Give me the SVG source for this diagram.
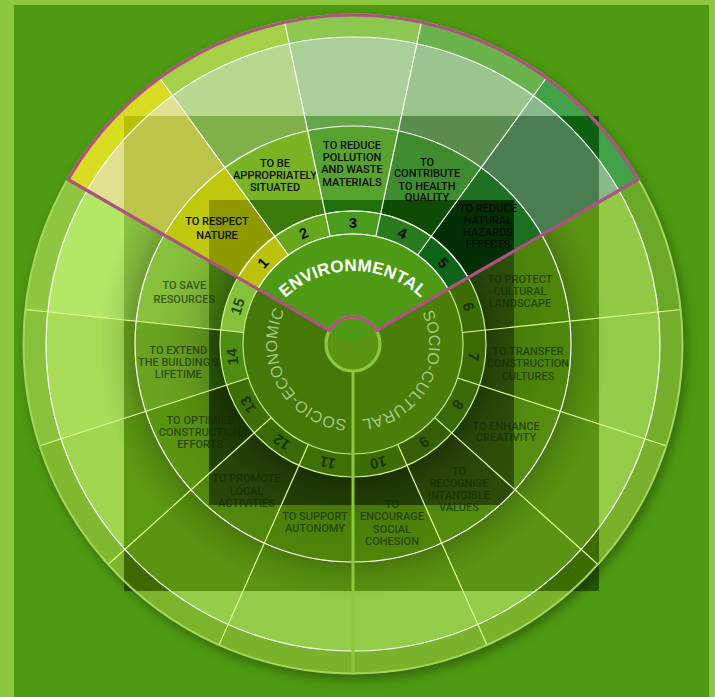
<svg xmlns="http://www.w3.org/2000/svg" xmlns:xlink="http://www.w3.org/1999/xlink" width="715" height="697" viewBox="0 0 715 697">
<style>
.lb{font-family:Roboto,"Liberation Sans",sans-serif;font-size:11px;font-weight:500;text-anchor:middle}
.env{fill:#0d0d0d}
.soc{fill:#142a00;fill-opacity:.72}
.num{font-family:"Liberation Sans",Roboto,sans-serif;font-size:15px;font-weight:bold;text-anchor:middle}
.nenv{fill:#0a0a0a}
.nsoc{fill:#0e2400;fill-opacity:.8}
.dv{stroke-width:1.2;fill:none}
</style>
<defs>
<clipPath id="cA"><rect x="124" y="116" width="475" height="475"/></clipPath>
<clipPath id="cB"><rect x="209" y="200" width="305" height="305"/></clipPath>
<circle id="rim" cx="353" cy="344" r="318.5" fill="none" stroke-width="23" pathLength="360" stroke-dasharray="24 336"/>
<circle id="ob" cx="353" cy="344" r="262.5" fill="none" stroke-width="89" pathLength="360" stroke-dasharray="24 336"/>
<circle id="lr" cx="353" cy="344" r="175.5" fill="none" stroke-width="85" pathLength="360" stroke-dasharray="24 336"/>
<circle id="nr" cx="353" cy="344" r="121.5" fill="none" stroke-width="23" pathLength="360" stroke-dasharray="24 336"/>
<radialGradient id="lsh" gradientUnits="userSpaceOnUse" cx="353" cy="344" r="218">
<stop offset="0.6" stop-color="#000" stop-opacity="0.32"/>
<stop offset="0.68" stop-color="#000" stop-opacity="0.16"/>
<stop offset="0.78" stop-color="#000" stop-opacity="0.06"/>
<stop offset="0.9" stop-color="#000" stop-opacity="0.01"/>
<stop offset="1" stop-color="#000" stop-opacity="0"/>
</radialGradient>
<radialGradient id="osh" gradientUnits="userSpaceOnUse" cx="353" cy="344" r="307">
<stop offset="0.7" stop-color="#000" stop-opacity="0.22"/>
<stop offset="0.76" stop-color="#000" stop-opacity="0.08"/>
<stop offset="0.83" stop-color="#000" stop-opacity="0"/>
</radialGradient>
<filter id="sh" x="-10%" y="-10%" width="120%" height="120%"><feGaussianBlur stdDeviation="6"/></filter>
<path id="pEnv" d="M267.26,320.5 A99,99 0 0 1 438.74,320.5"/>
<path id="pSE" d="M365.87,418.9 A76,76 0 0 1 295,294.9"/>
<path id="pSC" d="M410.79,294.65 A76,76 0 0 1 340.46,418.96"/>
</defs>

<rect width="715" height="697" fill="#8dc63f"/>
<rect x="14" y="5" width="695" height="692" fill="#4e9a12"/>
<rect x="124" y="116" width="475" height="475" fill="#245a06"/>
<circle cx="356" cy="349" r="330" fill="#000" opacity="0.35" filter="url(#sh)"/>

<g id="sector-1">
<use href="#rim" stroke="#d8dc22" transform="rotate(-150 353 344)"/>
<use href="#ob" stroke="#dfe190" transform="rotate(-150 353 344)"/>
<g clip-path="url(#cA)"><use href="#rim" stroke="#b8c000" transform="rotate(-150 353 344)"/><use href="#ob" stroke="#bcc44a" transform="rotate(-150 353 344)"/></g>
<use href="#lr" stroke="#c0c80e" transform="rotate(-150 353 344)"/>
<g clip-path="url(#cB)"><use href="#lr" stroke="#8e9a00" transform="rotate(-150 353 344)"/></g>
<use href="#nr" stroke="#bcc20c" transform="rotate(-150 353 344)"/>
<text class="lb env" x="217"><tspan x="217" y="224.6">TO RESPECT</tspan><tspan x="217" y="238.9">NATURE</tspan></text>
<text class="num nenv" transform="translate(262.71 262.7) rotate(-48)" dy="0.36em">1</text>
</g>

<g id="sector-2">
<use href="#rim" stroke="#a5d048" transform="rotate(-126 353 344)"/>
<use href="#ob" stroke="#b8d890" transform="rotate(-126 353 344)"/>
<g clip-path="url(#cA)"><use href="#ob" stroke="#80b04a" transform="rotate(-126 353 344)"/></g>
<use href="#lr" stroke="#7ab424" transform="rotate(-126 353 344)"/>
<g clip-path="url(#cB)"><use href="#lr" stroke="#3a7a0a" transform="rotate(-126 353 344)"/></g>
<use href="#nr" stroke="#66a81c" transform="rotate(-126 353 344)"/>
<text class="lb env"><tspan x="275" y="167.2">TO BE</tspan><tspan x="275" y="178.9">APPROPRIATELY</tspan><tspan x="275" y="190.6">SITUATED</tspan></text>
<text class="num nenv" transform="translate(303.58 233) rotate(-24)" dy="0.36em">2</text>
</g>

<g id="sector-3">
<use href="#rim" stroke="#8cc850" transform="rotate(-102 353 344)"/>
<use href="#ob" stroke="#aacf98" transform="rotate(-102 353 344)"/>
<g clip-path="url(#cA)"><use href="#ob" stroke="#66a44a" transform="rotate(-102 353 344)"/></g>
<use href="#lr" stroke="#58a230" transform="rotate(-102 353 344)"/>
<g clip-path="url(#cB)"><use href="#lr" stroke="#1e6e0a" transform="rotate(-102 353 344)"/></g>
<use href="#nr" stroke="#4a9c1e" transform="rotate(-102 353 344)"/>
<text class="lb env"><tspan x="352" y="148.9">TO REDUCE</tspan><tspan x="352" y="161.2">POLLUTION</tspan><tspan x="352" y="173.2">AND WASTE</tspan><tspan x="352" y="185.6">MATERIALS</tspan></text>
<text class="num nenv" transform="translate(353 222.5)" dy="0.36em">3</text>
</g>

<g id="sector-4">
<use href="#rim" stroke="#6ab24c" transform="rotate(-78 353 344)"/>
<use href="#ob" stroke="#9cc48e" transform="rotate(-78 353 344)"/>
<g clip-path="url(#cA)"><use href="#ob" stroke="#5a8c50" transform="rotate(-78 353 344)"/></g>
<use href="#lr" stroke="#3e8c2e" transform="rotate(-78 353 344)"/>
<g clip-path="url(#cB)"><use href="#lr" stroke="#0e4c06" transform="rotate(-78 353 344)"/></g>
<use href="#nr" stroke="#2a7a1e" transform="rotate(-78 353 344)"/>
<text class="lb env"><tspan x="427" y="165.6">TO</tspan><tspan x="427" y="177.2">CONTRIBUTE</tspan><tspan x="427" y="189.6">TO HEALTH</tspan><tspan x="427" y="201.2">QUALITY</tspan></text>
<text class="num nenv" transform="translate(402.42 233) rotate(24)" dy="0.36em">4</text>
</g>

<g id="sector-5">
<use href="#rim" stroke="#42a24a" transform="rotate(-54 353 344)"/>
<use href="#ob" stroke="#8ab88a" transform="rotate(-54 353 344)"/>
<g clip-path="url(#cA)"><use href="#rim" stroke="#0e6010" transform="rotate(-54 353 344)"/><use href="#ob" stroke="#4a7e50" transform="rotate(-54 353 344)"/></g>
<use href="#lr" stroke="#1e7022" transform="rotate(-54 353 344)"/>
<g clip-path="url(#cB)"><use href="#lr" stroke="#042e04" transform="rotate(-54 353 344)"/></g>
<use href="#nr" stroke="#0c6418" transform="rotate(-54 353 344)"/>
<text class="lb env"><tspan x="488" y="211.9">TO REDUCE</tspan><tspan x="488" y="223.9">NATURAL</tspan><tspan x="488" y="236.2">HAZARDS</tspan><tspan x="488" y="248.2">EFFECTS</tspan></text>
<text class="num nenv" transform="translate(443.29 262.7) rotate(48)" dy="0.36em">5</text>
</g>

<g id="sector-6">
<use href="#rim" stroke="#6ca828" transform="rotate(-30 353 344)"/>
<use href="#ob" stroke="#92ca46" transform="rotate(-30 353 344)"/>
<g clip-path="url(#cA)"><use href="#ob" stroke="#5a9612" transform="rotate(-30 353 344)"/></g>
<use href="#ob" stroke="url(#osh)" transform="rotate(-30 353 344)"/>
<use href="#lr" stroke="#4e860a" transform="rotate(-30 353 344)"/>
<g clip-path="url(#cB)"><use href="#lr" stroke="#30540a" transform="rotate(-30 353 344)"/></g>
<use href="#lr" stroke="url(#lsh)" transform="rotate(-30 353 344)"/>
<use href="#nr" stroke="#3c6c06" transform="rotate(-30 353 344)"/>
<text class="lb soc"><tspan x="520" y="282.9">TO PROTECT</tspan><tspan x="520" y="295.2">CULTURAL</tspan><tspan x="520" y="307.2">LANDSCAPE</tspan></text>
<text class="num nsoc" transform="translate(468.56 306.45) rotate(72)" dy="0.36em">6</text>
</g>

<g id="sector-7">
<use href="#rim" stroke="#74ae2a" transform="rotate(-6 353 344)"/>
<use href="#ob" stroke="#92cc48" transform="rotate(-6 353 344)"/>
<g clip-path="url(#cA)"><use href="#ob" stroke="#5a9612" transform="rotate(-6 353 344)"/></g>
<use href="#ob" stroke="url(#osh)" transform="rotate(-6 353 344)"/>
<use href="#lr" stroke="#4e860a" transform="rotate(-6 353 344)"/>
<g clip-path="url(#cB)"><use href="#lr" stroke="#30540a" transform="rotate(-6 353 344)"/></g>
<use href="#lr" stroke="url(#lsh)" transform="rotate(-6 353 344)"/>
<use href="#nr" stroke="#3c6a06" transform="rotate(-6 353 344)"/>
<text class="lb soc"><tspan x="528" y="354.6">TO TRANSFER</tspan><tspan x="528" y="367.2">CONSTRUCTION</tspan><tspan x="528" y="379.6">CULTURES</tspan></text>
<text class="num nsoc" transform="translate(473.83 356.7) rotate(96)" dy="0.36em">7</text>
</g>

<g id="sector-8">
<use href="#rim" stroke="#78b02c" transform="rotate(18 353 344)"/>
<use href="#ob" stroke="#94cc48" transform="rotate(18 353 344)"/>
<g clip-path="url(#cA)"><use href="#rim" stroke="#3c6c04" transform="rotate(18 353 344)"/><use href="#ob" stroke="#5a9412" transform="rotate(18 353 344)"/></g>
<use href="#ob" stroke="url(#osh)" transform="rotate(18 353 344)"/>
<use href="#lr" stroke="#568e10" transform="rotate(18 353 344)"/>
<g clip-path="url(#cB)"><use href="#lr" stroke="#2e5008" transform="rotate(18 353 344)"/></g>
<use href="#lr" stroke="url(#lsh)" transform="rotate(18 353 344)"/>
<use href="#nr" stroke="#3a6a08" transform="rotate(18 353 344)"/>
<text class="lb soc"><tspan x="506" y="429.6">TO ENHANCE</tspan><tspan x="506" y="441.2">CREATIVITY</tspan></text>
<text class="num nsoc" transform="translate(458.22 404.75) rotate(120)" dy="0.36em">8</text>
</g>

<g id="sector-9">
<use href="#rim" stroke="#7ab22c" transform="rotate(42 353 344)"/>
<use href="#ob" stroke="#92cc48" transform="rotate(42 353 344)"/>
<g clip-path="url(#cA)"><use href="#rim" stroke="#3c6c04" transform="rotate(42 353 344)"/><use href="#ob" stroke="#5a9412" transform="rotate(42 353 344)"/></g>
<use href="#ob" stroke="url(#osh)" transform="rotate(42 353 344)"/>
<use href="#lr" stroke="#548c0e" transform="rotate(42 353 344)"/>
<g clip-path="url(#cB)"><use href="#lr" stroke="#2e4a08" transform="rotate(42 353 344)"/></g>
<use href="#lr" stroke="url(#lsh)" transform="rotate(42 353 344)"/>
<use href="#nr" stroke="#365e06" transform="rotate(42 353 344)"/>
<text class="lb soc"><tspan x="459" y="474.9">TO</tspan><tspan x="459" y="486.6">RECOGNISE</tspan><tspan x="459" y="498.9">INTANGIBLE</tspan><tspan x="459" y="510.6">VALUES</tspan></text>
<text class="num nsoc" transform="translate(424.42 442.3) rotate(144)" dy="0.36em">9</text>
</g>

<g id="sector-10">
<use href="#rim" stroke="#7ab22c" transform="rotate(66 353 344)"/>
<use href="#ob" stroke="#92cc48" transform="rotate(66 353 344)"/>
<g clip-path="url(#cA)"><use href="#ob" stroke="#5a9410" transform="rotate(66 353 344)"/></g>
<use href="#ob" stroke="url(#osh)" transform="rotate(66 353 344)"/>
<use href="#lr" stroke="#4e840a" transform="rotate(66 353 344)"/>
<g clip-path="url(#cB)"><use href="#lr" stroke="#264206" transform="rotate(66 353 344)"/></g>
<use href="#lr" stroke="url(#lsh)" transform="rotate(66 353 344)"/>
<use href="#nr" stroke="#3c6c06" transform="rotate(66 353 344)"/>
<text class="lb soc"><tspan x="392" y="507.6">TO</tspan><tspan x="392" y="520.4">ENCOURAGE</tspan><tspan x="392" y="533.2">SOCIAL</tspan><tspan x="392" y="544.9">COHESION</tspan></text>
<text class="num nsoc" transform="translate(378.26 462.84) rotate(168)" dy="0.36em">10</text>
</g>

<g id="sector-11">
<use href="#rim" stroke="#7ab22c" transform="rotate(90 353 344)"/>
<use href="#ob" stroke="#92cc48" transform="rotate(90 353 344)"/>
<g clip-path="url(#cA)"><use href="#ob" stroke="#5a9410" transform="rotate(90 353 344)"/></g>
<use href="#ob" stroke="url(#osh)" transform="rotate(90 353 344)"/>
<use href="#lr" stroke="#4e840a" transform="rotate(90 353 344)"/>
<g clip-path="url(#cB)"><use href="#lr" stroke="#264206" transform="rotate(90 353 344)"/></g>
<use href="#lr" stroke="url(#lsh)" transform="rotate(90 353 344)"/>
<use href="#nr" stroke="#3e7006" transform="rotate(90 353 344)"/>
<text class="lb soc"><tspan x="315" y="519.9">TO SUPPORT</tspan><tspan x="315" y="531.9">AUTONOMY</tspan></text>
<text class="num nsoc" transform="translate(327.74 462.84) rotate(192)" dy="0.36em">11</text>
</g>

<g id="sector-12">
<use href="#rim" stroke="#7cb42c" transform="rotate(114 353 344)"/>
<use href="#ob" stroke="#94ce48" transform="rotate(114 353 344)"/>
<g clip-path="url(#cA)"><use href="#rim" stroke="#3e6a02" transform="rotate(114 353 344)"/><use href="#ob" stroke="#5a9410" transform="rotate(114 353 344)"/></g>
<use href="#ob" stroke="url(#osh)" transform="rotate(114 353 344)"/>
<use href="#lr" stroke="#52880c" transform="rotate(114 353 344)"/>
<g clip-path="url(#cB)"><use href="#lr" stroke="#2a4608" transform="rotate(114 353 344)"/></g>
<use href="#lr" stroke="url(#lsh)" transform="rotate(114 353 344)"/>
<use href="#nr" stroke="#3a6a06" transform="rotate(114 353 344)"/>
<text class="lb soc"><tspan x="246.5" y="481.6">TO PROMOTE</tspan><tspan x="246.5" y="494.6">LOCAL</tspan><tspan x="246.5" y="506.6">ACTIVITIES</tspan></text>
<text class="num nsoc" transform="translate(281.58 442.3) rotate(216)" dy="0.36em">12</text>
</g>

<g id="sector-13">
<use href="#rim" stroke="#80b830" transform="rotate(138 353 344)"/>
<use href="#ob" stroke="#a0d650" transform="rotate(138 353 344)"/>
<g clip-path="url(#cA)"><use href="#rim" stroke="#3e6a02" transform="rotate(138 353 344)"/><use href="#ob" stroke="#5c9a12" transform="rotate(138 353 344)"/></g>
<use href="#ob" stroke="url(#osh)" transform="rotate(138 353 344)"/>
<use href="#lr" stroke="#5a9410" transform="rotate(138 353 344)"/>
<g clip-path="url(#cB)"><use href="#lr" stroke="#224204" transform="rotate(138 353 344)"/></g>
<use href="#lr" stroke="url(#lsh)" transform="rotate(138 353 344)"/>
<use href="#nr" stroke="#3e6e08" transform="rotate(138 353 344)"/>
<text class="lb soc"><tspan x="200" y="423.9">TO OPTIMISE</tspan><tspan x="200" y="435.9">CONSTRUCTION</tspan><tspan x="200" y="447.6">EFFORTS</tspan></text>
<text class="num nsoc" transform="translate(247.78 404.75) rotate(240)" dy="0.36em">13</text>
</g>

<g id="sector-14">
<use href="#rim" stroke="#88c23a" transform="rotate(162 353 344)"/>
<use href="#ob" stroke="#a8dc58" transform="rotate(162 353 344)"/>
<g clip-path="url(#cA)"><use href="#ob" stroke="#6aa41e" transform="rotate(162 353 344)"/></g>
<use href="#ob" stroke="url(#osh)" transform="rotate(162 353 344)"/>
<use href="#lr" stroke="#6aa420" transform="rotate(162 353 344)"/>
<g clip-path="url(#cB)"><use href="#lr" stroke="#30600a" transform="rotate(162 353 344)"/></g>
<use href="#lr" stroke="url(#lsh)" transform="rotate(162 353 344)"/>
<use href="#nr" stroke="#4e8c12" transform="rotate(162 353 344)"/>
<text class="lb soc"><tspan x="178.3" y="353.9">TO EXTEND</tspan><tspan x="178.3" y="365.9">THE BUILDING'S</tspan><tspan x="178.3" y="377.9">LIFETIME</tspan></text>
<text class="num nsoc" transform="translate(232.17 356.7) rotate(264)" dy="0.36em">14</text>
</g>

<g id="sector-15">
<use href="#rim" stroke="#8ec640" transform="rotate(186 353 344)"/>
<use href="#ob" stroke="#b2e866" transform="rotate(186 353 344)"/>
<g clip-path="url(#cA)"><use href="#ob" stroke="#88c23e" transform="rotate(186 353 344)"/></g>
<use href="#ob" stroke="url(#osh)" transform="rotate(186 353 344)"/>
<use href="#lr" stroke="#88c23c" transform="rotate(186 353 344)"/>
<g clip-path="url(#cB)"><use href="#lr" stroke="#4c8a0e" transform="rotate(186 353 344)"/></g>
<use href="#lr" stroke="url(#lsh)" transform="rotate(186 353 344)"/>
<use href="#nr" stroke="#84c23a" transform="rotate(186 353 344)"/>
<text class="lb soc"><tspan x="184.3" y="288.9">TO SAVE</tspan><tspan x="184.3" y="303.2">RESOURCES</tspan></text>
<text class="num nsoc" transform="translate(237.44 306.45) rotate(288)" dy="0.36em">15</text>
</g>

<g id="core">
<path d="M353,344 L353,454 A110,110 0 0 1 257.74,289 Z" fill="#457807"/>
<path d="M353,344 L448.26,289 A110,110 0 0 1 353,454 Z" fill="#4a7e08"/>
<circle cx="353" cy="344" r="27" fill="#5a9410"/>
<path d="M353,344 L257.74,289 A110,110 0 0 1 448.26,289 Z" fill="#4e9a14"/>
<text font-family="'Liberation Sans',Roboto,sans-serif" font-size="17" font-weight="bold" letter-spacing="0.2" fill="#fff"><textPath href="#pEnv" startOffset="50%" text-anchor="middle">ENVIRONMENTAL</textPath></text>
<text font-family="'Liberation Sans',Roboto,sans-serif" font-size="16" letter-spacing="0.2" fill="#b8d8a0" fill-opacity="0.85"><textPath href="#pSE" startOffset="50%" text-anchor="middle">SOCIO-ECONOMIC</textPath></text>
<text font-family="'Liberation Sans',Roboto,sans-serif" font-size="16" letter-spacing="0.2" fill="#b8d8a0" fill-opacity="0.85"><textPath href="#pSC" startOffset="50%" text-anchor="middle">SOCIO-CULTURAL</textPath></text>
</g>

<g id="connectors">
<circle cx="353" cy="344" r="110" fill="none" stroke="#c0ec80" stroke-width="1.2"/>
<circle cx="353" cy="344" r="133" fill="none" stroke="#d0f490" stroke-width="1.2"/>
<path d="M257.74,289 A110,110 0 0 1 448.26,289 M237.82,277.5 A133,133 0 0 1 468.18,277.5" fill="none" stroke="#fff" stroke-width="1.2"/>
<circle cx="353" cy="344" r="218" fill="none" stroke="#fff" stroke-width="1.2"/>
<circle cx="353" cy="344" r="307" fill="none" stroke="#fff" stroke-width="1.2"/>
<g class="dv" stroke="#fff">
<line x1="288.34" y1="255.01" x2="159.03" y2="77.02"/>
<line x1="330.13" y1="236.4" x2="284.39" y2="21.21"/>
<line x1="375.87" y1="236.4" x2="421.61" y2="21.21"/>
<line x1="417.66" y1="255.01" x2="546.97" y2="77.02"/>
</g>
<g class="dv" stroke="#e4ff9a">
<line x1="462.4" y1="332.5" x2="681.19" y2="309.51"/>
<line x1="457.62" y1="377.99" x2="666.85" y2="445.98"/>
<line x1="434.75" y1="417.6" x2="598.24" y2="564.81"/>
<line x1="397.74" y1="444.49" x2="487.22" y2="645.47"/>
<line x1="308.26" y1="444.49" x2="218.78" y2="645.47"/>
<line x1="271.25" y1="417.6" x2="107.76" y2="564.81"/>
<line x1="248.38" y1="377.99" x2="39.15" y2="445.98"/>
<line x1="243.6" y1="332.5" x2="24.81" y2="309.51"/>
</g>
<circle cx="353" cy="344" r="329.5" fill="none" stroke="#a6d65a" stroke-width="2"/>
<line x1="353" y1="371" x2="353" y2="673" stroke="#8dc63f" stroke-width="3"/>
<circle cx="353" cy="344" r="27" fill="none" stroke="#8dc63f" stroke-width="3.2"/>
<path d="M68.08,179.5 A329,329 0 0 1 637.92,179.5 L376.38,330.5 A27,27 0 0 0 329.62,330.5 Z" fill="none" stroke="#ad5282" stroke-width="3.2" stroke-linejoin="round"/>
</g>
</svg>
